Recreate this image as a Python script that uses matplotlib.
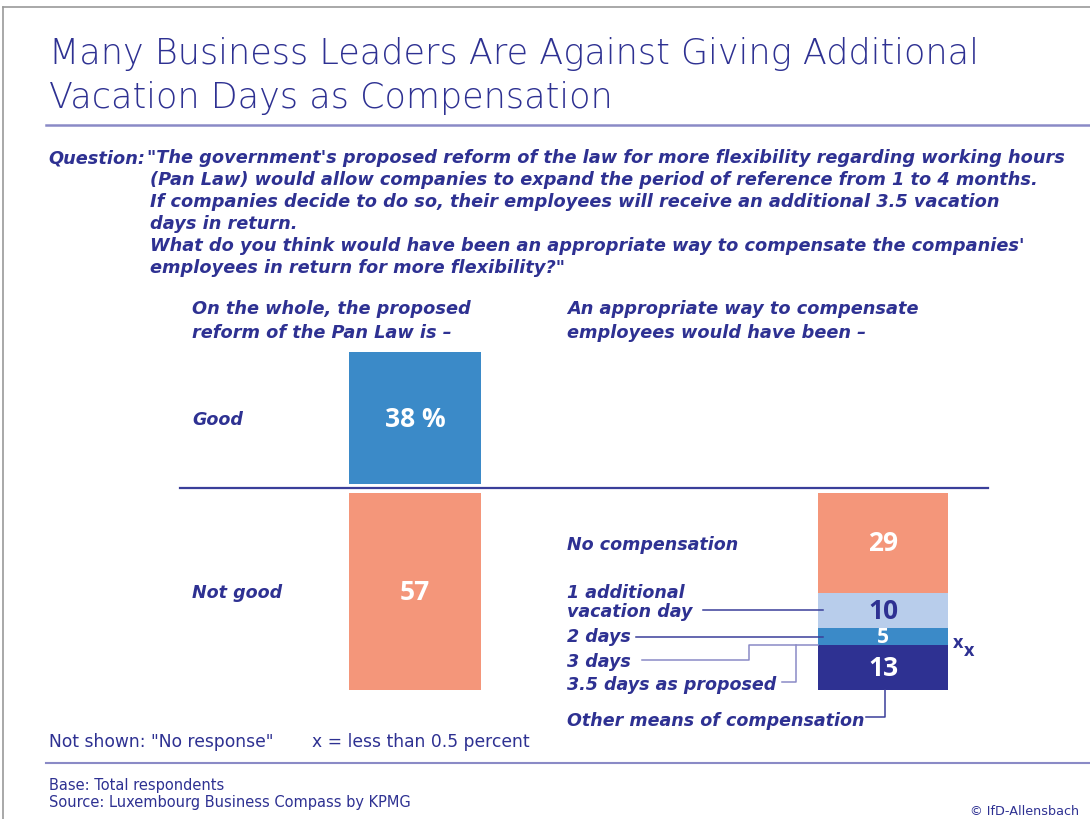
import matplotlib.pyplot as plt

# ---- data ----
opinion_labels = ["Good", "Not good"]
opinion_values = [38, 57]
opinion_text = ["38 %", "57"]

comp_labels = ["No compensation", "1 additional\nvacation day", "2 days", "3 days",
               "3.5 days as proposed", "Other means of compensation"]
comp_values = [29, 10, 5, 0, 0, 13]
comp_text = ["29", "10", "5", "x", "x", "13"]

# ---- style ----
NAVY = "#2e3192"
RULE = "#8a8ac6"
C_GOOD = "#3b8ac8"
C_BAD = "#f4967a"
comp_colors = [C_BAD, "#b8cdeb", C_GOOD, C_GOOD, C_GOOD, NAVY]
comp_value_colors = ["white", NAVY, "white", NAVY, NAVY, "white"]

FONT = "DejaVu Sans"
NUM_FONT = "Open Sans"
W, H = 1090, 820
ZERO = 489      # pixel row of the separator line
S = 3.47        # pixels per percentage point
GAP = 1.3

fig = plt.figure(figsize=(W / 100, H / 100), dpi=100)
fig.patch.set_facecolor("white")

# bars: x in pixels, y in percent (0 at the separator)
axb = fig.add_axes([0, 0, 1, 1])
axb.set_xlim(0, W)
axb.set_ylim(-(H - ZERO) / S, ZERO / S)
axb.axis("off")

# text layer in pixel coordinates
ax = fig.add_axes([0, 0, 1, 1])
ax.set_xlim(0, W)
ax.set_ylim(H, 0)
ax.axis("off")
ax.patch.set_alpha(0)


def py(v):
    return ZERO - v * S


def txt(x, y, s, size, **kw):
    kw.setdefault("color", NAVY)
    kw.setdefault("family", FONT)
    kw.setdefault("va", "baseline")
    ax.text(x, y, s, fontsize=size, **kw)


# frame
ax.plot([3, 3], [8, H], color="#9a9a9a", lw=1.2)
ax.plot([3, W], [8, 8], color="#9a9a9a", lw=1.2)

# title
txt(49, 64, "Many Business Leaders Are Against Giving Additional", 25.2, weight="light")
txt(49, 108, "Vacation Days as Compensation", 25.2, weight="light")
ax.plot([46, W], [126, 126], color=RULE, lw=1.8)

# question
q_lines = [
    "\"The government's proposed reform of the law for more flexibility regarding working hours",
    "(Pan Law) would allow companies to expand the period of reference from 1 to 4 months.",
    "If companies decide to do so, their employees will receive an additional 3.5 vacation",
    "days in return.",
    "What do you think would have been an appropriate way to compensate the companies'",
    "employees in return for more flexibility?\"",
]
qkw = dict(weight="bold", style="italic")
QS = 12.8   # question text
LS = 12.6   # row labels
txt(145, 163, "Question:", QS, ha="right", **qkw)
for i, line in enumerate(q_lines):
    txt(147 if i == 0 else 150, 163 + 22 * i, line, QS, **qkw)

# column headers
txt(192, 314, "On the whole, the proposed", QS, **qkw)
txt(192, 338, "reform of the Pan Law is \u2013", QS, **qkw)
txt(567, 314, "An appropriate way to compensate", QS, **qkw)
txt(567, 338, "employees would have been \u2013", QS, **qkw)

# separator
ax.plot([180, 988], [ZERO, ZERO], color="#3a3f9a", lw=1.6)

# left bars: Good above the line, Not good below
LX, LW = 349, 132
axb.bar(LX, opinion_values[0], bottom=GAP * 0.9, width=LW, align="edge", color=C_GOOD)
axb.bar(LX, -opinion_values[1], bottom=-GAP, width=LW, align="edge", color=C_BAD)
centers_left = [GAP * 0.9 + opinion_values[0] / 2, -GAP - opinion_values[1] / 2]
for lab, val_txt, c in zip(opinion_labels, opinion_text, centers_left):
    txt(192, py(c) + 6, lab, LS, **qkw)
    axb.text(LX + LW / 2, c, val_txt, ha="center", va="center", color="white",
             fontsize=19, weight="bold", family=NUM_FONT)

# right stacked bar
RX, RW = 818, 130
tops = []
top = -GAP
for v, col in zip(comp_values, comp_colors):
    tops.append(top)
    if v > 0:
        axb.bar(RX, -v, bottom=top, width=RW, align="edge", color=col)
    top -= v
centers = [t - v / 2 for t, v in zip(tops, comp_values)]

for i in (0, 1, 2, 5):
    axb.text(RX + RW / 2, centers[i], comp_text[i], ha="center", va="center",
             color=comp_value_colors[i], fontsize=19 if i != 2 else 15,
             weight="bold", family=NUM_FONT)
# the two sub-0.5 values
txt(953, 648, comp_text[3], 13, weight="bold", family=NUM_FONT)
txt(964, 656, comp_text[4], 13, weight="bold", family=NUM_FONT)

# right labels and connectors
LC = "#3a3f9a"
txt(567, py(centers[0]) + 6, comp_labels[0], LS, **qkw)
txt(567, 598, "1 additional", LS, **qkw)
txt(567, 617, "vacation day", LS, **qkw)
ax.plot([703, RX + 5], [py(centers[1])] * 2, color=LC, lw=1.1)
txt(567, 642, comp_labels[2], LS, **qkw)
ax.plot([636, RX + 5], [py(centers[2])] * 2, color=LC, lw=1.1)

y_join = py(tops[3])
txt(567, 667, comp_labels[3], LS, **qkw)
ax.plot([642, 749, 749, RX], [661, 661, y_join, y_join], color=RULE, lw=1.1)
txt(567, 690, comp_labels[4], LS, **qkw)
ax.plot([782, 796, 796], [683, 683, y_join], color=RULE, lw=1.1)

txt(567, 726, comp_labels[5], LS, **qkw)
ax.plot([866, 885, 885], [718, 718, py(tops[5] - comp_values[5])], color=LC, lw=1.1)

# footnotes
txt(49, 747, "Not shown: \"No response\"", 12.3)
txt(312, 747, "x = less than 0.5 percent", 12.3)
ax.plot([46, W], [764, 764], color=RULE, lw=1.5)
txt(49, 790, "Base: Total respondents", 10.5)
txt(49, 807, "Source: Luxembourg Business Compass by KPMG", 10.5)
txt(1079, 815, "\u00a9 IfD-Allensbach", 9.2, ha="right")

fig.savefig("out.png", dpi=100, facecolor="white")
